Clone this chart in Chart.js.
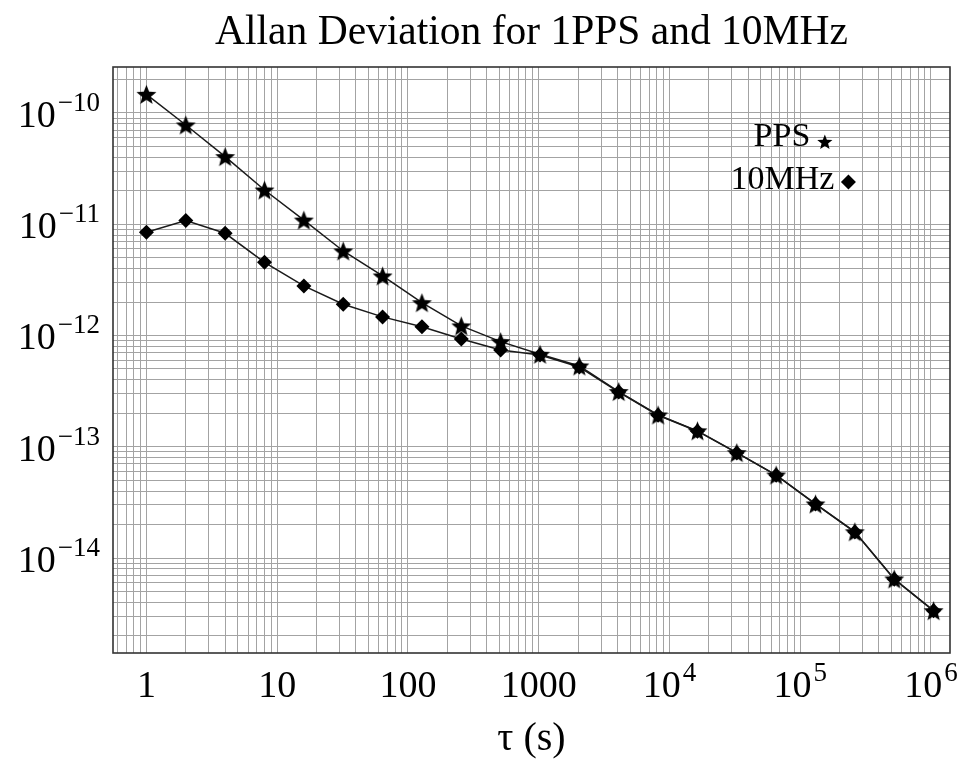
<!DOCTYPE html>
<html lang="en">
<head>
<meta charset="UTF-8">
<title>Allan Deviation for 1PPS and 10MHz</title>
<style>
  body { margin: 0; background: #fff; }
  #wrap { width: 962px; height: 770px; }
</style>
</head>
<body>
<div id="wrap"><canvas id="myChart" width="962" height="770"></canvas></div>

<script src="https://cdn.jsdelivr.net/npm/chart.js@4"></script>
<script>
// averaging times (s)
var tau = [1, 2, 4, 8, 16, 32, 64, 128, 256, 512, 1024, 2048, 4096, 8192,
  16384, 32768, 65536, 131072, 262144, 524288, 1048576];

// Allan deviation, 1PPS
var pps = [1.47e-10, 7.8e-11, 4.05e-11, 2.03e-11, 1.09e-11, 5.75e-12, 3.43e-12, 1.97e-12,
  1.22e-12, 8.8e-13, 6.78e-13, 5.32e-13, 3.13e-13, 1.93e-13, 1.39e-13, 8.85e-14,
  5.57e-14, 3.06e-14, 1.72e-14, 6.48e-15, 3.36e-15];

// Allan deviation, 10MHz
var mhz = [8.47e-12, 1.08e-11, 8.29e-12, 4.55e-12, 2.79e-12, 1.91e-12, 1.47e-12, 1.2e-12,
  9.3e-13, 7.41e-13, 6.68e-13, 5.21e-13, 3.1e-13, 1.92e-13, 1.38e-13, 8.8e-14,
  5.55e-14, 3.05e-14, 1.71e-14, 6.45e-15, 3.35e-15];

// tick labels, "base^exponent"
var xMajor = [1, 10, 100, 1000, 1e4, 1e5, 1e6];
var xLabels = ['1', '10', '100', '1000', '10^4', '10^5', '10^6'];
var yMajor = [1e-10, 1e-11, 1e-12, 1e-13, 1e-14];
var yLabels = ['10^−10', '10^−11', '10^−12', '10^−13', '10^−14'];

var xMin = 0.555, xMax = 1.4e6;
var yMin = 1.4e-15, yMax = 2.59e-10;

var serif = '"Liberation Serif", "Times New Roman", serif';

// 1..9 x 10^n positions for the grid
function gridTicks(min, max) {
  var out = [];
  for (var e = Math.floor(Math.log10(min)); e <= Math.ceil(Math.log10(max)); e++) {
    for (var m = 1; m < 10; m++) {
      var v = m * Math.pow(10, e);
      if (v >= min && v <= max) out.push({ value: v });
    }
  }
  return out;
}

function starPath(ctx, cx, cy, r) {
  var ri = r * 0.43;
  ctx.beginPath();
  for (var k = 0; k < 10; k++) {
    var rr = k % 2 ? ri : r;
    var a = -Math.PI / 2 + k * Math.PI / 5;
    ctx.lineTo(cx + rr * Math.cos(a), cy + rr * Math.sin(a));
  }
  ctx.closePath();
}

function makeStar(r) {
  var c = document.createElement('canvas');
  var s = Math.ceil(2 * r + 2);
  c.width = s; c.height = s;
  var g = c.getContext('2d');
  g.fillStyle = '#000';
  starPath(g, s / 2, s / 2 + 1, r);
  g.fill();
  return c;
}

function diamondPath(ctx, cx, cy, r) {
  ctx.beginPath();
  ctx.moveTo(cx, cy - r);
  ctx.lineTo(cx + r, cy);
  ctx.lineTo(cx, cy + r);
  ctx.lineTo(cx - r, cy);
  ctx.closePath();
}

var frame = {
  id: 'frame',
  afterDraw: function (chart) {
    var a = chart.chartArea, ctx = chart.ctx;
    ctx.save();
    ctx.strokeStyle = '#333';
    ctx.lineWidth = 1.6;
    ctx.strokeRect(a.left, a.top, a.right - a.left, a.bottom - a.top);
    ctx.restore();
  }
};

// base plus raised exponent, placed at the scale's pixel for each major value
function drawPow(ctx, text, x, y, align) {
  var p = text.split('^');
  ctx.font = '38px ' + serif;
  var wb = ctx.measureText(p[0]).width;
  var we = 0;
  if (p[1]) {
    ctx.font = '27px ' + serif;
    we = ctx.measureText(p[1]).width + 2;
  }
  var x0 = align === 'right' ? x - wb - we : x - (wb + we) / 2;
  ctx.font = '38px ' + serif;
  ctx.fillText(p[0], x0, y);
  if (p[1]) {
    ctx.font = '27px ' + serif;
    ctx.fillText(p[1], x0 + wb + 2, y - 16);
  }
}

var axisLabels = {
  id: 'axisLabels',
  afterDraw: function (chart) {
    var ctx = chart.ctx, a = chart.chartArea;
    var xs = chart.scales.x, ys = chart.scales.y;
    ctx.save();
    ctx.fillStyle = '#000';
    ctx.textAlign = 'left';
    ctx.textBaseline = 'alphabetic';
    xMajor.forEach(function (v, i) {
      drawPow(ctx, xLabels[i], xs.getPixelForValue(v), a.bottom + 44, 'center');
    });
    yMajor.forEach(function (v, i) {
      drawPow(ctx, yLabels[i], a.left - 13, ys.getPixelForValue(v) + 14, 'right');
    });
    ctx.restore();
  }
};

// text then marker, rows centred, inside the plot
var cornerLegend = {
  id: 'cornerLegend',
  afterDraw: function (chart) {
    var a = chart.chartArea, ctx = chart.ctx;
    var cx = a.left + 0.8124 * (a.right - a.left);
    ctx.save();
    ctx.font = '34px ' + serif;
    ctx.textAlign = 'left';
    ctx.textBaseline = 'middle';
    ctx.fillStyle = '#000';
    chart.data.datasets.forEach(function (ds, i) {
      var y = a.top + (0.1203 + i * 0.0725) * (a.bottom - a.top);
      var w = ctx.measureText(ds.label).width;
      var m = i === 0 ? 15 : 14;
      var x0 = cx - (w + 7 + m) / 2;
      ctx.fillText(ds.label, x0, y);
      var mx = x0 + w + 7 + m / 2;
      if (i === 0) starPath(ctx, mx, y + 5, 8);
      else diamondPath(ctx, mx, y + 2, 7.5);
      ctx.fill();
    });
    ctx.restore();
  }
};

var chrt = document.getElementById('myChart').getContext('2d');
var chartId = new Chart(chrt, {
  type: 'scatter',
  data: {
    datasets: [{
      label: 'PPS',
      data: tau.map(function (t, i) { return { x: t, y: pps[i] }; }),
      showLine: true,
      borderColor: '#1a1a1a',
      borderWidth: 1.5,
      pointStyle: makeStar(10.5),
      pointRadius: 10,
      pointBackgroundColor: '#000',
      pointBorderColor: '#000'
    }, {
      label: '10MHz',
      data: tau.map(function (t, i) { return { x: t, y: mhz[i] }; }),
      showLine: true,
      borderColor: '#1a1a1a',
      borderWidth: 1.5,
      pointStyle: 'rectRot',
      pointRadius: 7.5,
      pointBackgroundColor: '#000',
      pointBorderColor: '#000',
      pointBorderWidth: 0
    }]
  },
  options: {
    responsive: false,
    animation: false,
    devicePixelRatio: 1,
    layout: { padding: { left: 0, right: 12, top: 0, bottom: 0 } },
    plugins: {
      legend: { display: false },
      tooltip: { enabled: false },
      title: {
        display: true,
        fullSize: false,
        text: 'Allan Deviation for 1PPS and 10MHz',
        color: '#000',
        font: { family: serif, size: 41.5, weight: 'normal', lineHeight: 1.2 },
        padding: { top: 8, bottom: 9.2 }
      }
    },
    scales: {
      x: {
        type: 'logarithmic',
        min: xMin,
        max: xMax,
        afterBuildTicks: function (s) { s.ticks = gridTicks(xMin, xMax); },
        afterFit: function (s) { s.height = 117; s.paddingLeft = 0; s.paddingRight = 12; },
        grid: { color: '#a3a3a3', lineWidth: 1, drawTicks: false },
        border: { display: false },
        ticks: { display: false, autoSkip: false },
        title: {
          display: true,
          text: 'τ (s)',
          color: '#000',
          font: { family: serif, size: 40 },
          padding: { top: 0, bottom: 7 }
        }
      },
      y: {
        type: 'logarithmic',
        min: yMin,
        max: yMax,
        afterBuildTicks: function (s) { s.ticks = gridTicks(yMin, yMax); },
        afterFit: function (s) { s.width = 113; s.paddingTop = 0; s.paddingBottom = 0; },
        grid: { color: '#a3a3a3', lineWidth: 1, drawTicks: false },
        border: { display: false },
        ticks: { display: false, autoSkip: false }
      }
    }
  },
  plugins: [frame, axisLabels, cornerLegend]
});
</script>
</body>
</html>
